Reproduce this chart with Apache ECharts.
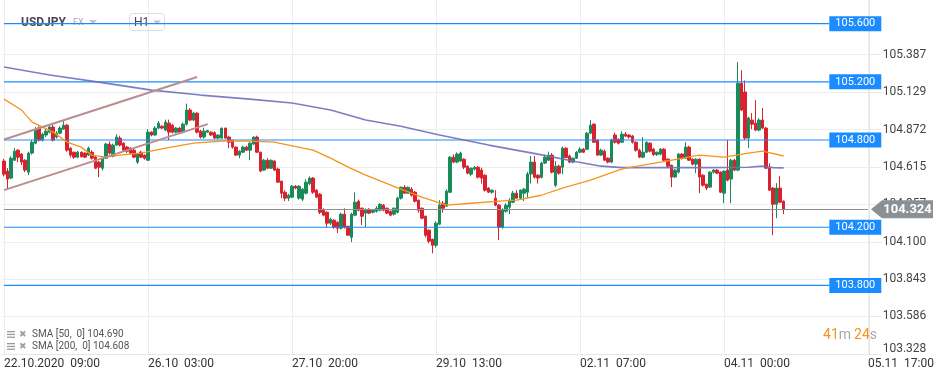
<!DOCTYPE html>
<html><head><meta charset="utf-8">
<script src="https://cdn.jsdelivr.net/npm/echarts@6/dist/echarts.min.js"></script>
<style>html,body{margin:0;padding:0;background:#fff}#c{width:945px;height:380px}</style>
</head><body><div id="c"></div>
<script>
// ---- DATA ----
// hourly candles USDJPY H1: [open, close, low, high]
const candles = [
[104.655,104.565,104.550,104.670],[104.586,104.531,104.462,104.607],[104.538,104.675,104.531,104.689],[104.661,104.723,104.655,104.744],
[104.730,104.682,104.648,104.737],[104.703,104.648,104.627,104.710],[104.661,104.593,104.579,104.668],[104.579,104.710,104.558,104.720],
[104.710,104.785,104.700,104.800],[104.778,104.868,104.770,104.890],[104.882,104.799,104.790,104.895],[104.799,104.840,104.790,104.850],
[104.834,104.861,104.820,104.875],[104.854,104.889,104.845,104.900],[104.889,104.799,104.790,104.910],[104.820,104.847,104.810,104.860],
[104.847,104.882,104.840,104.895],[104.875,104.902,104.870,104.930],[104.902,104.730,104.720,104.910],[104.744,104.696,104.680,104.750],
[104.716,104.682,104.670,104.720],[104.682,104.716,104.675,104.725],[104.716,104.685,104.680,104.720],[104.710,104.682,104.675,104.715],
[104.696,104.744,104.690,104.755],[104.716,104.675,104.665,104.730],[104.682,104.606,104.600,104.690],[104.648,104.613,104.545,104.655],
[104.606,104.675,104.590,104.680],[104.675,104.772,104.670,104.780],[104.772,104.710,104.700,104.790],[104.689,104.765,104.680,104.775],
[104.765,104.820,104.760,104.840],[104.813,104.765,104.755,104.830],[104.778,104.730,104.720,104.785],[104.751,104.723,104.710,104.760],
[104.744,104.710,104.700,104.750],[104.730,104.682,104.675,104.740],[104.648,104.703,104.635,104.710],[104.716,104.682,104.675,104.725],
[104.696,104.675,104.665,104.700],[104.661,104.854,104.655,104.875],[104.854,104.834,104.825,104.860],[104.834,104.882,104.830,104.895],
[104.882,104.916,104.875,104.930],[104.895,104.882,104.875,104.900],[104.868,104.923,104.860,104.940],[104.916,104.854,104.800,104.940],
[104.902,104.854,104.845,104.910],[104.854,104.882,104.845,104.890],[104.882,104.854,104.840,104.890],[104.854,104.909,104.845,104.920],
[104.909,105.006,104.900,105.050],[105.006,104.937,104.930,105.020],[104.937,104.985,104.930,104.995],[104.985,104.854,104.845,104.990],
[104.861,104.820,104.810,104.870],[104.820,104.861,104.810,104.885],[104.854,104.865,104.850,104.870],[104.854,104.834,104.830,104.860],
[104.850,104.813,104.805,104.860],[104.813,104.834,104.805,104.840],[104.813,104.882,104.810,104.885],[104.882,104.813,104.810,104.885],
[104.820,104.785,104.744,104.830],[104.799,104.751,104.740,104.800],[104.751,104.696,104.690,104.755],[104.696,104.723,104.675,104.730],
[104.716,104.751,104.710,104.760],[104.751,104.730,104.725,104.760],[104.730,104.778,104.661,104.785],[104.772,104.820,104.765,104.825],
[104.820,104.716,104.710,104.830],[104.716,104.586,104.579,104.720],[104.593,104.661,104.586,104.670],[104.661,104.606,104.600,104.675],
[104.606,104.661,104.600,104.665],[104.655,104.593,104.586,104.660],[104.600,104.510,104.505,104.610],[104.517,104.434,104.400,104.520],
[104.440,104.400,104.380,104.455],[104.400,104.420,104.380,104.430],[104.407,104.482,104.400,104.490],[104.482,104.469,104.460,104.490],
[104.400,104.482,104.390,104.490],[104.393,104.462,104.380,104.470],[104.434,104.510,104.425,104.530],[104.500,104.538,104.490,104.550],
[104.538,104.441,104.430,104.545],[104.455,104.407,104.400,104.460],[104.427,104.303,104.290,104.435],[104.317,104.283,104.275,104.330],
[104.303,104.228,104.200,104.310],[104.228,104.255,104.215,104.265],[104.248,104.200,104.190,104.255],[104.235,104.193,104.160,104.240],
[104.193,104.290,104.185,104.300],[104.290,104.200,104.190,104.330],[104.207,104.145,104.140,104.210],[104.131,104.290,104.097,104.300],
[104.283,104.372,104.275,104.440],[104.379,104.317,104.310,104.390],[104.331,104.276,104.214,104.335],[104.297,104.317,104.200,104.330],
[104.324,104.297,104.290,104.330],[104.303,104.317,104.295,104.325],[104.310,104.331,104.300,104.345],[104.317,104.358,104.310,104.365],
[104.352,104.317,104.310,104.360],[104.331,104.297,104.290,104.335],[104.310,104.283,104.275,104.315],[104.290,104.331,104.280,104.335],
[104.303,104.400,104.295,104.410],[104.400,104.475,104.390,104.480],[104.475,104.434,104.430,104.490],[104.434,104.475,104.430,104.480],
[104.462,104.420,104.410,104.475],[104.441,104.379,104.370,104.450],[104.386,104.317,104.300,104.390],[104.331,104.262,104.255,104.335],
[104.276,104.145,104.130,104.280],[104.180,104.104,104.090,104.185],[104.118,104.076,104.021,104.120],[104.076,104.228,104.060,104.240],
[104.221,104.352,104.215,104.386],[104.365,104.331,104.300,104.380],[104.345,104.448,104.340,104.460],[104.441,104.682,104.435,104.690],
[104.682,104.648,104.640,104.700],[104.648,104.703,104.640,104.715],[104.655,104.710,104.650,104.720],[104.668,104.613,104.600,104.675],
[104.620,104.572,104.565,104.625],[104.565,104.606,104.550,104.610],[104.600,104.613,104.590,104.620],[104.613,104.544,104.535,104.620],
[104.593,104.538,104.500,104.610],[104.558,104.455,104.445,104.565],[104.469,104.441,104.435,104.475],[104.441,104.455,104.430,104.460],
[104.400,104.352,104.345,104.455],[104.352,104.200,104.111,104.360],[104.200,104.317,104.190,104.330],[104.310,104.352,104.300,104.365],
[104.338,104.386,104.290,104.400],[104.372,104.434,104.365,104.450],[104.434,104.400,104.395,104.455],[104.400,104.455,104.390,104.460],
[104.434,104.462,104.380,104.470],[104.441,104.566,104.400,104.580],[104.566,104.648,104.500,104.690],[104.648,104.544,104.535,104.690],
[104.558,104.538,104.500,104.565],[104.544,104.641,104.535,104.650],[104.641,104.682,104.635,104.700],[104.661,104.696,104.655,104.720],
[104.696,104.579,104.570,104.710],[104.489,104.620,104.475,104.655],[104.620,104.572,104.560,104.630],[104.613,104.744,104.565,104.755],
[104.744,104.680,104.675,104.750],[104.690,104.648,104.640,104.700],[104.648,104.675,104.640,104.680],[104.675,104.716,104.670,104.725],
[104.716,104.737,104.710,104.750],[104.737,104.716,104.710,104.745],[104.737,104.847,104.730,104.855],[104.847,104.902,104.840,104.937],
[104.909,104.785,104.780,104.915],[104.799,104.696,104.690,104.805],[104.696,104.730,104.690,104.740],[104.723,104.661,104.655,104.735],
[104.675,104.648,104.640,104.680],[104.648,104.800,104.640,104.810],[104.834,104.785,104.775,104.850],[104.806,104.778,104.770,104.810],
[104.785,104.840,104.780,104.860],[104.840,104.827,104.820,104.855],[104.834,104.820,104.810,104.840],[104.827,104.785,104.775,104.835],
[104.785,104.730,104.720,104.790],[104.730,104.682,104.675,104.740],[104.682,104.716,104.675,104.820],[104.716,104.785,104.710,104.790],
[104.778,104.723,104.715,104.785],[104.737,104.700,104.690,104.745],[104.700,104.716,104.690,104.720],[104.703,104.737,104.695,104.745],
[104.737,104.661,104.655,104.745],[104.668,104.620,104.610,104.675],[104.627,104.545,104.476,104.630],[104.545,104.593,104.540,104.600],
[104.579,104.703,104.570,104.710],[104.703,104.675,104.665,104.710],[104.675,104.751,104.670,104.785],[104.751,104.661,104.655,104.760],
[104.668,104.634,104.625,104.675],[104.634,104.668,104.572,104.675],[104.668,104.545,104.434,104.675],[104.558,104.489,104.480,104.565],
[104.496,104.469,104.455,104.500],[104.476,104.579,104.470,104.585],[104.579,104.593,104.570,104.600],[104.593,104.572,104.565,104.600],
[104.579,104.441,104.435,104.585],[104.434,104.586,104.365,104.590],[104.593,104.524,104.515,104.800],[104.531,104.661,104.365,104.670],
[104.661,104.593,104.585,104.670],[104.593,105.190,104.585,105.336],[105.190,105.006,105.000,105.280],[105.130,104.813,104.800,105.210],
[104.813,104.951,104.744,104.960],[104.937,104.909,104.875,104.985],[104.916,104.868,104.860,105.074],[104.868,104.937,104.860,104.950],
[104.937,104.882,104.875,105.020],[104.882,104.606,104.600,104.890],[104.606,104.455,104.450,104.640],[104.469,104.358,104.145,104.475],
[104.358,104.469,104.262,104.503],[104.469,104.372,104.365,104.551],[104.379,104.324,104.290,104.385]
];
// SMA readings [slot index, value]
const sma50 = [[0,105.081],[5,105.006],[8,104.923],[11,104.889],[14,104.854],[18,104.785],[22,104.751],[25,104.696],[29,104.682],[33,104.696],[39,104.710],[46,104.744],[54,104.778],[62,104.792],[70,104.792],[77,104.785],[81,104.765],[88,104.730],[93,104.675],[98,104.613],[103,104.558],[108,104.510],[113,104.462],[119,104.407],[126,104.352],[133,104.365],[141,104.379],[146,104.386],[153,104.420],[159,104.469],[167,104.524],[175,104.593],[177,104.606],[187,104.648],[198,104.696],[205,104.682],[212,104.710],[216,104.723],[222,104.690]];
const sma200 = [[0,105.302],[13,105.247],[27,105.198],[42,105.143],[56,105.109],[70,105.081],[82,105.054],[93,105.006],[103,104.937],[113,104.895],[124,104.834],[138,104.765],[152,104.703],[163,104.651],[170,104.620],[176,104.610],[200,104.610],[212,104.613],[216,104.620],[219,104.610],[222,104.608]];
const levels = [105.600, 105.200, 104.800, 104.200, 103.800];
const levelEnd = 235;
const lastPrice = 104.324;
const trendLines = [[[0,104.803],[55,105.233]], [[0,104.455],[58,104.909]]];
const yTickLabels = ['103.328','103.586','103.843','104.100','104.357','104.615','104.872','105.129','105.387'];
const xTickLabels = {0:'22.10.2020  09:00', 41:'26.10  03:00', 82:'27.10  20:00', 123:'29.10  13:00', 164:'02.11  07:00', 205:'04.11  00:00', 246:'05.11  17:00'};
const slotCount = 247;
const yMin = 103.328, yMax = 105.763;
const legendTexts = ['SMA [50,  0] 104.690', 'SMA [200,  0] 104.608'];

// ---- CHART ----
const GREEN = '#1b8a5a', RED = '#d8222e', BLUE = '#1a8cff', GRAY = '#8b9095';
const cats = Array.from({length: slotCount}, (_, i) => String(i));
const yTickValues = yTickLabels.map(Number);
const chart = echarts.init(document.getElementById('c'));

const levelSeries = levels.map(v => ({
  type: 'line', data: [[0, v], [levelEnd, v]], showSymbol: false, silent: true, z: 3,
  lineStyle: {color: BLUE, width: 1.2, type: 'solid'},
  itemStyle: {color: BLUE},
  endLabel: {show: true, distance: 0, formatter: v.toFixed(3), backgroundColor: BLUE, color: '#fff',
             fontSize: 11, padding: [2, 6, 2, 6], fontFamily: 'Roboto', align: 'left'}
}));
const grayStyle = {color: GRAY, width: 1, type: 'solid', opacity: 1};
const priceLine = [[{coord: [0, lastPrice], lineStyle: grayStyle, label: {show: false}}, {coord: [246, lastPrice], lineStyle: grayStyle}]];
const trendStyle = {color: '#b98e8e', width: 2, type: 'solid', opacity: 1};
const trendData = trendLines.map(t => [
  {coord: t[0], lineStyle: trendStyle, label: {show: false}},
  {coord: t[1], lineStyle: trendStyle}
]);

const option = {
  animation: false,
  textStyle: {fontFamily: 'Roboto'},
  grid: {left: 2.24, right: 945 - 869.7, top: 0, bottom: 26},
  xAxis: {
    type: 'category', data: cats, boundaryGap: true,
    axisLine: {show: true, lineStyle: {color: '#e6e6e6'}},
    axisTick: {show: false},
    axisLabel: {
      interval: (i) => Object.prototype.hasOwnProperty.call(xTickLabels, i),
      formatter: (v, i) => xTickLabels[i] || '',
      align: 'left', color: '#333', fontSize: 12, margin: 4
    },
    splitLine: {show: false}
  },
  yAxis: {
    type: 'value', position: 'right', min: yMin, max: yMax,
    axisLine: {show: true, lineStyle: {color: '#e6e6e6'}},
    axisTick: {show: true, length: 12, lineStyle: {color: '#e9e9e9'}, customValues: yTickValues},
    axisLabel: {
      customValues: yTickValues, color: '#444', fontSize: 12, margin: 13,
      formatter: (v) => Math.abs(v - yMin) < 1e-6 ? '{lo|' + v.toFixed(3) + '}' : v.toFixed(3),
      rich: {lo: {padding: [0, 0, 10, 0], fontSize: 12, color: '#444'}}
    },
    splitLine: {show: true, lineStyle: {color: '#eeeeee'}}
  },
  series: [
    {
      type: 'line', data: [], z: 0, silent: true,
      markLine: {
        silent: true, symbol: ['none', 'none'], z: 0, animation: false,
        label: {show: false},
        lineStyle: {color: '#eeeeee', width: 1, type: 'solid'},
        data: Object.keys(xTickLabels).map(k => ({xAxis: Number(k)}))
      }
    },
    {
      type: 'candlestick', data: candles, barWidth: 3,
      itemStyle: {color: GREEN, color0: RED, borderColor: GREEN, borderColor0: RED, borderWidth: 1},
      markLine: {
        silent: true, symbol: ['none', 'none'], animation: false,
        emphasis: {disabled: true},
        data: [...priceLine, ...trendData]
      }
    },
    ...levelSeries,
    {
      type: 'line', data: sma200, showSymbol: false, silent: true, z: 4,
      lineStyle: {color: '#6d70bd', width: 1.6, opacity: 0.9}
    },
    {
      type: 'line', data: sma50, showSymbol: false, silent: true, z: 4,
      lineStyle: {color: '#f7941d', width: 1.3}
    }
  ]
};
chart.setOption(option);

const py = chart.convertToPixel({yAxisIndex: 0}, lastPrice);
const icon = (y) => [
  {type: 'rect', shape: {x: 7, y: y - 3.5, width: 8, height: 1.3}, style: {fill: '#9a9a9a'}},
  {type: 'rect', shape: {x: 7, y: y - 0.7, width: 8, height: 1.3}, style: {fill: '#9a9a9a'}},
  {type: 'rect', shape: {x: 7, y: y + 2.1, width: 8, height: 1.3}, style: {fill: '#9a9a9a'}},
  {type: 'text', style: {x: 19, y: y, text: '✖', fontSize: 9, fill: '#a0a0a0', fontFamily: 'DejaVu Sans', verticalAlign: 'middle'}}
];
chart.setOption({
  graphic: {elements: [
    // header
    {type: 'text', z: 1, style: {x: 21, y: 23, text: 'USDJPY', fontSize: 12, fontWeight: 'bold', fill: '#4a4a4a', fontFamily: 'Roboto', verticalAlign: 'middle'}},
    {type: 'text', z: 1, style: {x: 73, y: 23, text: 'FX', fontSize: 9, fill: '#aaa', fontFamily: 'Roboto', verticalAlign: 'middle'}},
    {type: 'polygon', z: 1, shape: {points: [[89, 20], [97, 20], [93, 24]]}, style: {fill: '#c4c4c4'}},
    {type: 'rect', z: 1, shape: {x: 129.5, y: 13.5, width: 35, height: 17, r: 3}, style: {fill: 'rgba(255,255,255,0)', stroke: '#dddddd', lineWidth: 1}},
    {type: 'text', z: 1, style: {x: 134, y: 23, text: 'H1', fontSize: 12, fill: '#444', fontFamily: 'Roboto', verticalAlign: 'middle'}},
    {type: 'polygon', z: 1, shape: {points: [[153, 20.5], [161, 20.5], [157, 24.5]]}, style: {fill: '#c4c4c4'}},
    // legend
    ...icon(334.5), ...icon(346.5),
    {type: 'text', style: {x: 32, y: 334.5, text: legendTexts[0], fontSize: 10, fill: '#555', fontFamily: 'Roboto', verticalAlign: 'middle'}},
    {type: 'text', style: {x: 32, y: 346.5, text: legendTexts[1], fontSize: 10, fill: '#555', fontFamily: 'Roboto', verticalAlign: 'middle'}},
    // countdown
    {type: 'text', style: {x: 877, y: 335, align: 'right', verticalAlign: 'middle', fontFamily: 'Roboto',
      text: '{o|41}{g|m} {o|24}{g|s}',
      rich: {o: {fontSize: 14, fill: '#f7941d', fontFamily: 'Roboto'}, g: {fontSize: 14, fill: '#aaaaaa', fontFamily: 'Roboto'}}}},
    // price marker
    {type: 'polygon', z: 100, shape: {points: [[871, py], [882, py - 9], [933, py - 9], [933, py + 9], [882, py + 9]]}, style: {fill: GRAY}},
    {type: 'text', z: 101, style: {x: 907.5, y: py + 0.5, text: lastPrice.toFixed(3), fontSize: 13, fontWeight: 'bold', fill: '#fff', fontFamily: 'Roboto', align: 'center', verticalAlign: 'middle'}}
  ]}
});
</script>
</body></html>
